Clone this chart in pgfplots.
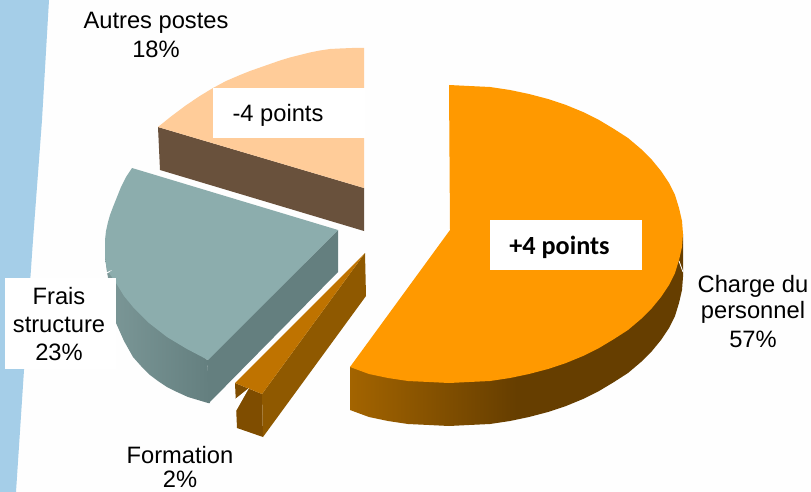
\documentclass[border=0pt]{standalone}
\usepackage{pgfplots}
\pgfplotsset{compat=1.18}
\usepackage{fontspec}
\setmainfont{Liberation Sans}
\newfontfamily\carlito{Carlito}
\definecolor{pagebg}{HTML}{FEFEFE}
\definecolor{band}{HTML}{A5CEE8}
\definecolor{orangetop}{HTML}{FF9900}
\definecolor{peach}{HTML}{FFCC99}
\definecolor{brownside}{HTML}{69513C}
\definecolor{tealtop}{HTML}{8CADAD}
\definecolor{tealside}{HTML}{647F7F}
\definecolor{tealsidel}{HTML}{7C9898}
\definecolor{ftop}{HTML}{BF7300}
\definecolor{fside}{HTML}{8F5900}
\definecolor{ffront}{HTML}{7F4D00}
\definecolor{cleft}{HTML}{A36400}
\definecolor{cright}{HTML}{663E00}
\pgfdeclarehorizontalshading{chargeside}{100bp}{color(0bp)=(cleft); color(25bp)=(cleft); color(50bp)=(cright); color(100bp)=(cright)}
\pgfdeclarehorizontalshading{tealouter}{100bp}{color(0bp)=(tealsidel); color(25bp)=(tealsidel); color(75bp)=(tealside); color(100bp)=(tealside)}
\newcommand{\lab}[3]{\node[anchor=base,inner sep=0pt,font=\fontsize{23.7}{28}\selectfont] at (axis cs:#1,#2) {#3};}
\begin{document}
\begin{tikzpicture}
\begin{axis}[
  width=811pt,height=492pt,scale only axis,
  axis lines=none,
  xmin=0,xmax=811,ymin=0,ymax=492,y dir=reverse,
  clip=true]
% page ground, so that the picture keeps the full frame
\addplot[fill=pagebg,draw=none] coordinates {(0,0)(811,0)(811,492)(0,492)} --cycle;
% background band
\addplot[fill=band,draw=none] coordinates {(0,0)(49,0)(42,120)(33,240)(24,370)(16,492)(0,492)} --cycle;
% Autres postes
\addplot[fill=brownside,draw=none] coordinates {(158,127)(160,170)(364,231)(364,188)} --cycle;
\addplot[fill=peach,draw=none] coordinates {(364,48)(352,48)(340,48.5)(330,49)(320,50.5)(310,52.5)(300,55)(290,57.5)(280,60.5)(270,64)(260,67.5)(250,71)(240,75)(226,81)(213,88)(199,96.5)(185,106)(171,116.5)(158,127)(364,188)} --cycle;
\addplot[fill=white,draw=none] coordinates {(213,88)(365,88)(365,138)(213,138)} --cycle;
% Frais structure
\addplot[shade,shading=tealouter,draw=none] coordinates {(105,257)(107,272)(116,323)(124,341)(133,357)(141,366)(150,375)(158,381)(167,387)(177,392)(188,397)(198,400)(208,403)(210,403)(207,360)(150,300)} --cycle;
\addplot[fill=tealside,draw=none] coordinates {(338,230)(338,272)(209,403)(207,360)} --cycle;
\addplot[fill=tealtop,draw=none] coordinates {(132,168)(338,230)(208,360)(187,349)(167,337)(149,323)(133,307)(124,296)(116,283)(107,270)(106,264)(105,257)(105,249)(105,240)(106,231)(108,222)(110,215)(113,207)(117,197)(121,187)(126,177)} --cycle;
\addplot[fill=white,draw=none] coordinates {(105,273)(112,270)(108,273)} --cycle;
\addplot[fill=white,draw=none] coordinates {(5,278)(116,278)(116,369)(5,369)} --cycle;
% Formation
\addplot[fill=ffront,draw=none] coordinates {(235,383)(262,394)(263,437)(237,428)} --cycle;
\addplot[fill=fside,draw=none] coordinates {(365,253)(262,394)(263,437)(366,296)} --cycle;
\addplot[fill=ftop,draw=none] coordinates {(365,253)(235,383)(262,394)} --cycle;
\addplot[fill=white,draw=none] coordinates {(249,388)(234,400)(236,411)} --cycle;
% Charge du personnel
\addplot[shade,shading=chargeside,draw=none] coordinates {(350,367)(350,410)(369,417)(388,421)(408,424)(429,425)(449,426)(469,425)(490,424)(510,421)(529,417)(548,412)(566,406)(583,399)(599,391)(614,382)(628,373)(641,362)(652,351)(661,340)(669,328)(675,316)(679,303)(682,290)(683,277)(683,234)(600,300)} --cycle;
\addplot[fill=orangetop,draw=none] coordinates {(450,230)(449,85)(469,86)(490,87)(510,90)(529,94)(548,99)(566,105)(583,112)(599,120)(614,129)(628,138)(641,149)(652,160)(661,171)(669,183)(675,195)(679,208)(682,221)(683,234)(682,247)(679,260)(675,273)(669,285)(661,297)(652,308)(641,319)(628,330)(614,339)(599,348)(583,356)(566,363)(548,369)(529,374)(510,378)(490,381)(469,382)(449,383)(429,382)(408,381)(388,378)(369,374)(350,367)} --cycle;
\addplot[fill=white,draw=none] coordinates {(490,220)(642,220)(642,270)(490,270)} --cycle;
\addplot[white,line width=0.8pt] coordinates {(679,261)(683,272)};
% labels
\lab{156}{29}{Autres postes}
\lab{156}{58}{18\%}
\lab{278}{122}{-4 points}
\lab{59}{304}{Frais}
\lab{59}{332}{structure}
\lab{59}{360}{23\%}
\lab{180}{463}{Formation}
\lab{180}{487}{2\%}
\lab{753}{292}{Charge du}
\lab{753}{318}{personnel}
\lab{753}{347}{57\%}
\node[anchor=base,inner sep=0pt,font=\carlito\bfseries\fontsize{26.2}{28}\selectfont] at (axis cs:559.5,254) {+4 points};
\end{axis}
\end{tikzpicture}
\end{document}
